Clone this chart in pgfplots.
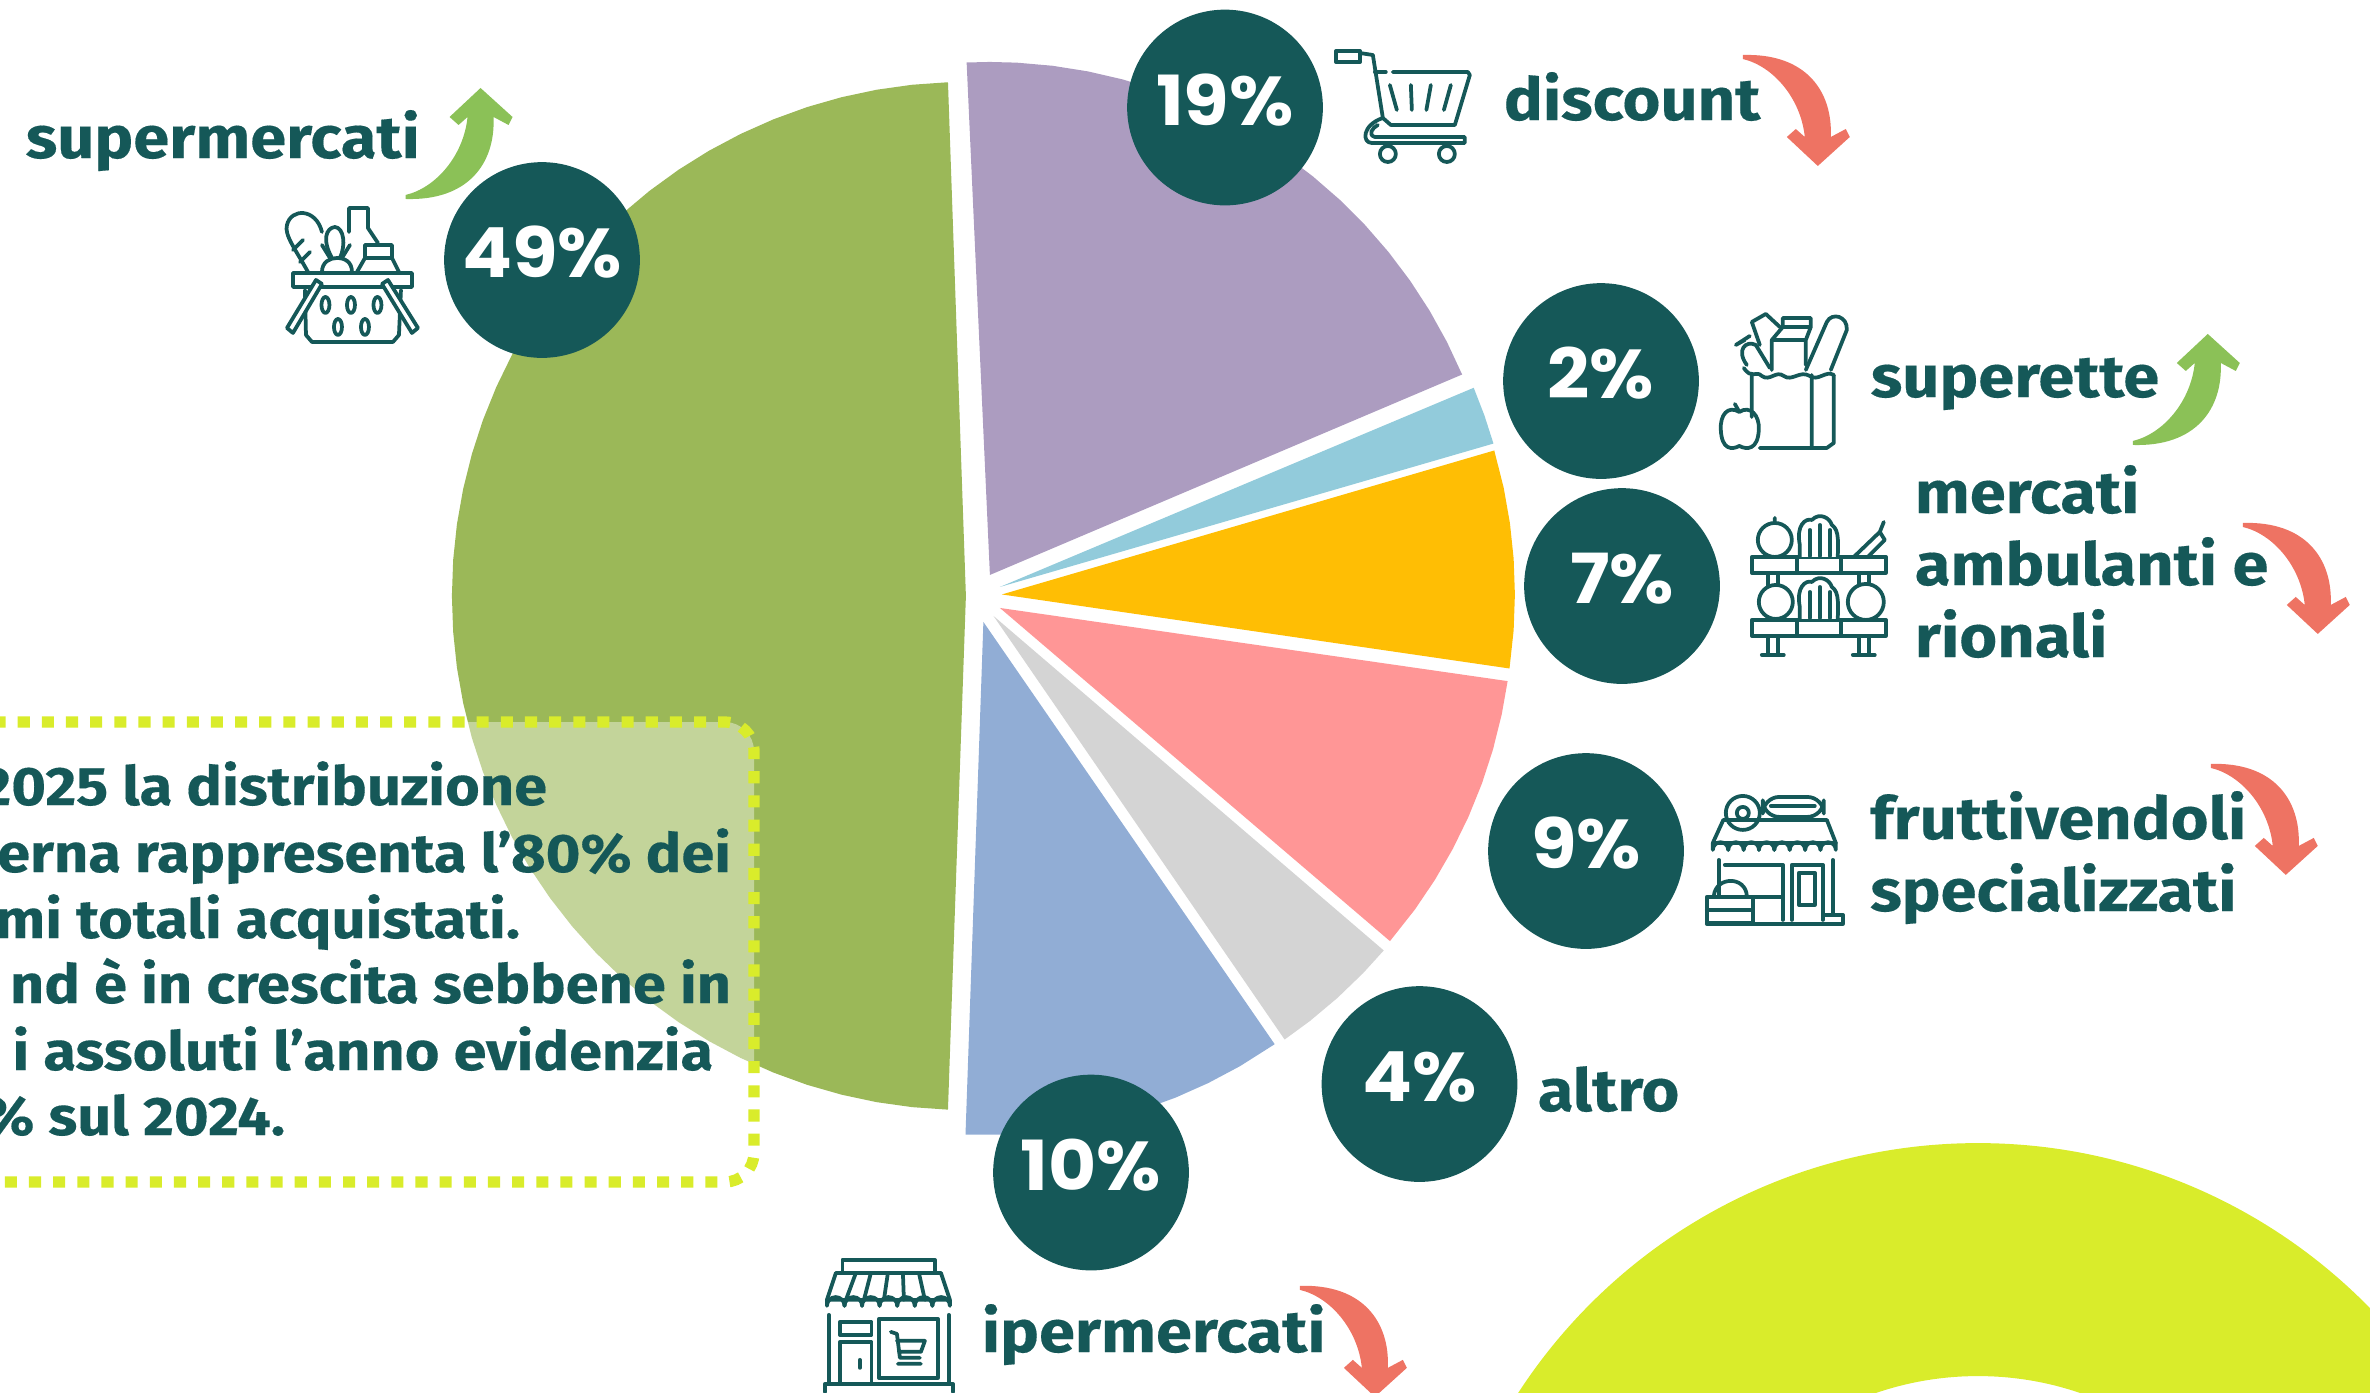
\documentclass[border=0pt]{standalone}
\usepackage{fontspec}
\usepackage{pgfplots}
\pgfplotsset{compat=1.18}
\setmainfont{Fira Sans}[FakeStretch=1.1, FakeBold=0.25]
\newfontfamily\pct{Poppins}[FakeStretch=1.07]

\definecolor{cGreen}{HTML}{9BB858}
\definecolor{cPurple}{HTML}{AC9CC0}
\definecolor{cSky}{HTML}{92CBDB}
\definecolor{cYellow}{HTML}{FFBE04}
\definecolor{cPink}{HTML}{FF9696}
\definecolor{cGrey}{HTML}{D4D4D4}
\definecolor{cBlue}{HTML}{91ADD5}
\definecolor{cTeal}{HTML}{155858}
\definecolor{cLime}{HTML}{D9EC2B}
\definecolor{cUp}{HTML}{8BC157}
\definecolor{cDown}{HTML}{EE7363}

% 1 px of the reference in cm
\def\U{0.00843882}

\tikzset{
    lab/.style={font=\fontsize{14.2}{16}\selectfont\bfseries, text=cTeal, inner sep=0pt, anchor=base west},
    notetxt/.style={font=\fontsize{13}{15}\selectfont\bfseries, text=cTeal, inner sep=0pt, anchor=base east},
}

\newcommand{\trend}[4]{\fill[#3,shift={(#1,#2)},yscale=#4] (0,0) -- (32,29) -- (28,37) -- (13,29)
  .. controls (15,75) and (-12,113) .. (-75,111) -- (-75,107)
  .. controls (-45,100) and (-17,68) .. (-13,29) -- (-22,37) -- (-31,29) -- cycle;}

\begin{document}
\begin{tikzpicture}
\useasboundingbox (0,0) rectangle (20,11.747);
\clip (0,0) rectangle (20,11.747);

\begin{axis}[
    at={(0,0)}, anchor=south west,
    scale only axis, width=20cm, height=11.747cm,
    xmin=0, xmax=2370, ymin=-1392, ymax=0,
    hide axis, clip=false,
]
% lime ring, bottom right
\fill[cLime, even odd rule] (axis cs:1978,-1691) circle[radius=548*\U cm]
     (axis cs:1978,-1691) circle[radius=315*\U cm];

% pie sectors: (angle, radius), each with its own exploded centre
% supermercati 49%
\addplot[fill=cGreen, draw=none, data cs=polar, xshift=966*\U cm, yshift=-596*\U cm] coordinates {
 (0,0) (92,514) (96,514) (100,514) (104,514) (108,514) (112,514) (116,514) (120,514) (124,514)
 (128,514) (132,514) (136,514) (140,514) (144,514) (148,514) (152,514) (156,514) (160,514)
 (164,514) (168,514) (172,514) (176,514) (180,514) (184,514) (188,514) (192,514) (196,514)
 (200,514) (204,514) (208,514) (212,514) (216,514) (220,514) (224,514) (228,514) (232,514)
 (236,514) (240,514) (244,514) (248,514) (252,514) (256,514) (260,514) (264,514) (268,514)};
% discount 19%
\addplot[fill=cPurple, draw=none, data cs=polar, xshift=990*\U cm, yshift=-575*\U cm] coordinates {
 (0,0) (23,513) (27,513) (31,513) (35,513) (39,513) (43,513) (47,513) (51,513) (55,513) (59,513)
 (63,513) (67,513) (71,513) (75,513) (79,513) (83,513) (87,513) (90,513) (92.6,513)};
% superette 2%
\addplot[fill=cSky, draw=none, data cs=polar, xshift=1000*\U cm, yshift=-587*\U cm] coordinates {
 (0,0) (16.2,514) (19.5,514) (22.8,514)};
% mercati ambulanti e rionali 7%
\addplot[fill=cYellow, draw=none, data cs=polar, xshift=1002*\U cm, yshift=-594.5*\U cm] coordinates {
 (0,0) (-8.3,513) (-4,513) (0,513) (4,513) (8,513) (12,513) (16.3,513)};
% fruttivendoli specializzati 9%
\addplot[fill=cPink, draw=none, data cs=polar, xshift=1000*\U cm, yshift=-608*\U cm] coordinates {
 (0,0) (-40.5,513) (-36,513) (-32,513) (-28,513) (-24,513) (-20,513) (-16,513) (-12,513) (-8.2,513)};
% altro 4%
\addplot[fill=cGrey, draw=none, data cs=polar, xshift=993.6*\U cm, yshift=-616*\U cm] coordinates {
 (0,0) (-55.5,514) (-52,514) (-48,514) (-44,514) (-40.6,514)};
% ipermercati 10%
\addplot[fill=cBlue, draw=none, data cs=polar, xshift=983.5*\U cm, yshift=-622*\U cm] coordinates {
 (0,0) (-92,513) (-88,513) (-84,513) (-80,513) (-76,513) (-72,513) (-68,513) (-64,513) (-60,513) (-55.4,513)};

% note box
\draw[cLime, line width=2.7pt, dash pattern=on 2.9pt off 2.9pt, rounded corners=7pt,
      fill=white, fill opacity=0.4, draw opacity=1]
     (axis cs:-60,-722) rectangle (axis cs:754,-1182);
\node[notetxt] at (axis cs:548,-805) {2025 la distribuzione};
\node[notetxt] at (axis cs:732,-872) {erna rappresenta l’80\% dei};
\node[notetxt] at (axis cs:521,-938) {mi totali acquistati.};
\node[notetxt] at (axis cs:732,-1003) {nd è in crescita sebbene in};
\node[notetxt] at (axis cs:714,-1070) {i assoluti l’anno evidenzia};
\node[notetxt] at (axis cs:286,-1135) {\% sul 2024.};

% percent badges
\addplot[only marks, mark=*, mark size=23.3pt, color=cTeal, mark options={draw=none, fill=cTeal},
    point meta=explicit symbolic,
    nodes near coords, nodes near coords align={center},
    every node near coord/.style={font=\pct\fontsize{16.6}{18}\selectfont\bfseries, text=white, inner sep=0pt, anchor=center, yshift=1.8pt}]
 coordinates {(542,-260)[49\%] (1225,-107.5)[19\%] (1601,-381)[2\%] (1622,-586)[7\%]
              (1586,-851)[9\%] (1419.5,-1084)[4\%] (1091,-1172.5)[10\%]};

% labels
\node[lab] at (axis cs:25,-158) {supermercati};
\node[lab] at (axis cs:1503,-120) {discount};
\node[lab] at (axis cs:1870,-397) {superette};
\node[lab] at (axis cs:1914,-513) {mercati};
\node[lab] at (axis cs:1914,-585) {ambulanti e};
\node[lab] at (axis cs:1914,-657) {rionali};
\node[lab] at (axis cs:1869.5,-839) {fruttivendoli};
\node[lab] at (axis cs:1869.5,-911) {specializzati};
\node[lab] at (axis cs:1537,-1111) {altro};
\node[lab] at (axis cs:981,-1352) {ipermercati};
\end{axis}

% icons and trend arrows, in reference pixels
\begin{scope}[yshift=11.747cm, x=\U cm, y=-\U cm]
\trend{480.6}{88}{cUp}{1}
\trend{2208}{334}{cUp}{1}
\trend{1818}{166}{cDown}{-1}
\trend{2318}{634}{cDown}{-1}
\trend{2286}{875}{cDown}{-1}
\trend{1375}{1397}{cDown}{-1}

\begin{scope}[draw=cTeal, line width=0.9pt, line join=round, line cap=round]
% basket
\draw (293,273) rectangle (412,287);
\draw (305,290) -- (306,335) -- (312,342) -- (393,342) -- (399,335) -- (401,290);
\draw[fill=white] (316,280) -- (287,328) -- (293,333) -- (322,284) -- cycle;
\draw[fill=white] (388,280) -- (418,328) -- (412,333) -- (382,284) -- cycle;
\foreach \p in {(325.5,305),(351,305),(377.5,305),(338,327),(365,327)}
  \draw \p ellipse[x radius=4, y radius=8];
\draw (308,272) .. controls (296,250) and (284,235) .. (287,225) .. controls (291,208) and (316,208) .. (322,232);
\draw (293,250) -- (303,240) (300,262) -- (310,252);
\draw (322,272) .. controls (322,262) and (330,258) .. (337,258) .. controls (345,258) and (352,262) .. (352,272);
\draw (332,258) .. controls (322,240) and (326,228) .. (335,227) .. controls (344,228) and (346,245) .. (340,258);
\draw (322,245) -- (330,258) (350,245) -- (342,258);
\draw (349,208) -- (368,208) -- (368,228) -- (378,243) (349,208) -- (349,232);
\draw (365,245) -- (392,245) -- (392,258) -- (365,258) -- cycle;
\draw (365,258) -- (357,272) (392,258) -- (399,272);

% cart
\draw (1336,51) rectangle (1360,62);
\draw (1360,53) -- (1373,55) -- (1383,118) -- (1391,125) -- (1455,125) -- (1470,75) -- (1468,72) -- (1393,72);
\draw (1375,72) -- (1386,72);
\foreach \a/\b in {1390/1397,1411/1412,1431/1426.5,1451/1444}
  \draw (\a,85) -- (\b,110);
\draw (1383,118) .. controls (1362,125) and (1362,143) .. (1372,143) -- (1465,143) -- (1465,137) -- (1375,137) .. controls (1368,135) and (1372,128) .. (1378,125);
\draw (1388,154) circle[radius=8];
\draw (1447,154) circle[radius=8];

% grocery bag
\draw (1752,375) -- (1752,417) (1760,448) -- (1827,448) -- (1834,443) -- (1834,375) (1812,375) -- (1812,447);
\draw (1744,368) .. controls (1752,380) and (1756,370) .. (1762,376) .. controls (1770,382) and (1776,370) .. (1784,376) .. controls (1792,382) and (1800,370) .. (1810,376) .. controls (1818,382) and (1826,370) .. (1834,375);
\draw (1806,370) -- (1827,322) .. controls (1832,312) and (1848,316) .. (1847,330) -- (1831,370);
\draw (1772,370) -- (1772,340) -- (1783,327) -- (1811,327) -- (1806,340) -- (1772,340) (1783,327) -- (1783,318) -- (1811,318) -- (1811,327) (1806,340) -- (1806,365);
\draw (1747,365) .. controls (1736,350) and (1746,340) .. (1756,345) -- (1770,368);
\draw (1760,345) -- (1752,322) -- (1766,314) -- (1780,327) (1745,340) -- (1736,345) -- (1750,336);
\draw (1739.5,412) .. controls (1728,405) and (1720,415) .. (1721,430) .. controls (1722,450) and (1732,450) .. (1739.5,446) .. controls (1747,450) and (1758,450) .. (1759,430) .. controls (1760,415) and (1750,405) .. (1739.5,412) -- (1735,404);

% market stall
\draw (1752,557) rectangle (1886,573) (1797,557) -- (1797,573) (1841,557) -- (1841,573);
\draw (1752,620) rectangle (1886,636) (1797,620) -- (1797,636) (1841,620) -- (1841,636);
\draw (1768,573) -- (1768,620) (1778,573) -- (1778,620) (1859,573) -- (1859,620) (1869,573) -- (1869,620);
\draw (1768,636) -- (1768,654) (1778,636) -- (1778,654) (1859,636) -- (1859,654) (1869,636) -- (1869,654) (1762,655) -- (1784,655) (1853,655) -- (1875,655);
\draw[fill=white] (1775,540) circle[radius=17] (1775,523) -- (1775,518);
\draw[fill=white] (1776,602) circle[radius=17];
\foreach \y in {0,62}{
  \draw[fill=white] (1800,\y+557) -- (1800,\y+545) .. controls (1796,\y+525) and (1806,\y+518) .. (1812,\y+520) .. controls (1820,\y+512) and (1830,\y+518) .. (1832,\y+525) .. controls (1840,\y+530) and (1838,\y+545) .. (1838,\y+557);
  \draw (1820,\y+525) -- (1820,\y+556) (1810,\y+530) -- (1810,\y+556) (1830,\y+530) -- (1830,\y+556);
}
\draw (1854,557) -- (1880,532) -- (1885,540) -- (1868,557) (1880,532) -- (1884,522);
\draw[fill=white] (1866,602) circle[radius=18];

% fruit shop
\draw (1743,813) circle[radius=17] (1743,813) circle[radius=6];
\draw[rounded corners=4pt] (1763,797) rectangle (1824,817);
\draw (1771,806) -- (1815,806);
\draw (1713,843) -- (1723.5,820) -- (1827,820) -- (1836,843) -- cycle;
\foreach \x in {1713,1728.4,1743.8,1759.1,1774.5,1789.9,1805.3,1820.6}
  \draw (\x,843) -- (\x,850) arc[start angle=180, end angle=360, radius=7.7] -- (\x+15.4,843);
\draw (1719,860) -- (1719,897) (1833,860) -- (1833,915) (1725,865) -- (1783,865) -- (1783,920) (1753,897) -- (1783,897);
\draw (1792,920) -- (1792,865) -- (1823,865) -- (1823,920);
\draw (1799,873) rectangle (1815,905);
\draw (1707,897) rectangle (1753,923) (1707,910) -- (1753,910);
\draw (1714,896) .. controls (1716,876) and (1746,876) .. (1747,896);
\draw (1707,924) -- (1843,924) -- (1843,915) -- (1824,915);

% hypermarket
\draw (842.5,1272) -- (842.5,1260) -- (935,1260) -- (935,1272);
\draw (836,1273) -- (941,1273) -- (950,1300) -- (827,1300) -- cycle;
\foreach \a/\b in {856/846,871/864,888/884,903/904,919/925}
  \draw (\a,1273) -- (\b,1300);
\foreach \x in {827,844.6,862.1,879.7,897.3,914.9,932.4}
  \draw (\x,1300) -- (\x,1306) arc[start angle=180, end angle=360, radius=8.8] -- (\x+17.6,1300);
\draw (829,1315) -- (829,1383) (949,1315) -- (949,1383);
\draw (879,1319) rectangle (938,1378);
\draw (840,1322) rectangle (871.5,1335);
\draw (840,1383) -- (840,1342) -- (871.5,1342) -- (871.5,1383);
\draw (860,1360) -- (860,1368);
\draw (891,1332) -- (897,1334) -- (900,1358) -- (920,1358) (897,1341) -- (925,1341) -- (921,1352) -- (899,1352) (898,1364) -- (921,1364);
\draw (825,1392) -- (825,1384) -- (953,1384) -- (953,1392);
\end{scope}
\end{scope}
\end{tikzpicture}
\end{document}
